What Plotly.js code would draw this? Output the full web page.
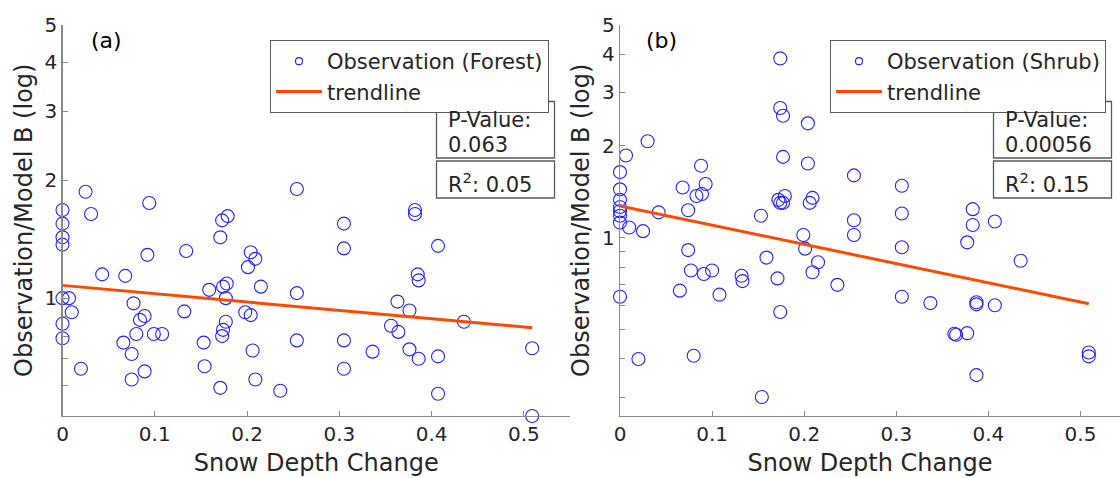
<!DOCTYPE html>
<html>
<head>
<meta charset="utf-8">
<script src="https://cdn.plot.ly/plotly-3.0.1.min.js"></script>
<style>
  html, body { margin: 0; padding: 0; background: #ffffff; }
  #chart { width: 1120px; height: 478px; }
</style>
</head>
<body>
<div id="chart"></div>
<script>
// Panel (a): forest sites
const forestX = [0.025, 0.094, 0, 0.031, 0, 0, 0, 0.173, 0.179, 0.171, 0.254, 0.092, 0.134, 0.204, 0.209, 0.201,
  0.043, 0.068, 0.159, 0.174, 0.178, 0.215, 0.254, 0, 0.007, 0.177, 0.010, 0.077, 0.132, 0.198, 0.204, 0, 0,
  0.089, 0.084, 0.177, 0.174, 0.173, 0.080, 0.099, 0.108, 0.066, 0.075, 0.153, 0.206, 0.020, 0.089, 0.075,
  0.154, 0.209, 0.171, 0.236,
  0.305, 0.305, 0.382, 0.382, 0.407, 0.385, 0.386, 0.363, 0.376, 0.435, 0.356, 0.364, 0.254, 0.305, 0.336,
  0.376, 0.386, 0.407, 0.305, 0.407, 0.509, 0.509];
const forestY = [1.87, 1.75, 1.68, 1.64, 1.55, 1.43, 1.37, 1.58, 1.62, 1.43, 1.90, 1.29, 1.32, 1.31, 1.26, 1.20,
  1.15, 1.14, 1.05, 1.07, 1.09, 1.07, 1.03, 1.00, 1.00, 1.00, 0.92, 0.97, 0.925, 0.92, 0.905, 0.86, 0.79,
  0.90, 0.88, 0.87, 0.83, 0.80, 0.81, 0.81, 0.81, 0.77, 0.72, 0.77, 0.735, 0.66, 0.65, 0.62,
  0.67, 0.62, 0.59, 0.58,
  1.55, 1.34, 1.68, 1.64, 1.36, 1.15, 1.11, 0.98, 0.93, 0.87, 0.85, 0.82, 0.78, 0.78, 0.73,
  0.74, 0.70, 0.71, 0.66, 0.57, 0.745, 0.50];
const forestTrendX = [0, 0.509];
const forestTrendY = [1.078, 0.840];
const forestStats = { p: '0.063', r2: '0.05' };

// Panel (b): shrub sites
const shrubX = [0.174, 0.174, 0.177, 0.204, 0.030, 0.0065, 0.177, 0.204, 0, 0.088, 0.068, 0.093, 0, 0.083, 0.089,
  0, 0, 0, 0, 0, 0.010, 0.025, 0.042, 0.074, 0.153, 0.172, 0.174, 0.179, 0.177, 0.209, 0.206, 0.199, 0.201,
  0.215, 0.209, 0.074, 0.159, 0.077, 0.091, 0.100, 0.132, 0.133, 0.171, 0.236, 0, 0.065, 0.108, 0.174,
  0.020, 0.080, 0.154,
  0.254, 0.306, 0.254, 0.254, 0.306, 0.383, 0.383, 0.407, 0.377, 0.306, 0.435, 0.306, 0.337, 0.387, 0.387,
  0.407, 0.363, 0.365, 0.377, 0.387, 0.509, 0.509, 0.356];
const shrubY = [3.87, 2.66, 2.51, 2.37, 2.07, 1.86, 1.84, 1.75, 1.64, 1.72, 1.46, 1.50, 1.44, 1.37, 1.39,
  1.33, 1.26, 1.22, 1.18, 1.12, 1.08, 1.05, 1.21, 1.23, 1.18, 1.33, 1.30, 1.37, 1.30, 1.35, 1.30, 1.02, 0.92,
  0.83, 0.77, 0.91, 0.86, 0.78, 0.76, 0.78, 0.75, 0.72, 0.735, 0.70, 0.64, 0.67, 0.65, 0.57,
  0.40, 0.41, 0.30,
  1.60, 1.48, 1.14, 1.02, 1.20, 1.24, 1.10, 1.13, 0.965, 0.93, 0.84, 0.64, 0.61, 0.614, 0.604,
  0.60, 0.484, 0.48, 0.486, 0.354, 0.42, 0.408, 0.258];
const shrubTrendX = [0, 0.509];
const shrubTrendY = [1.27, 0.607];
const shrubStats = { p: '0.00056', r2: '0.15' };

// Axis ticks
const xTickVals = [0, 0.1, 0.2, 0.3, 0.4, 0.5];
const xTickText = ['0', '0.1', '0.2', '0.3', '0.4', '0.5'];
const yTickVals = [1, 2, 3, 4, 5];
const yTickText = ['1', '2', '3', '4', '5'];
const yMinorValsA = [0.5, 0.6, 0.7, 0.8, 0.9];
const yMinorValsB = [0.3, 0.4, 0.5, 0.6, 0.7, 0.8, 0.9];

const W = 1120, H = 478;
const fx = v => v / W;          // pixel column -> paper x
const fy = v => 1 - v / H;      // pixel row -> paper y

const TEXT = '#262626';
const AXIS = '#8a8a8a';
const BLUE = 'rgb(35,35,255)';
const ORANGE = 'rgb(255,72,0)';
const FONT = 'DejaVu Sans';

const markerStyle = size => ({ symbol: 'circle-open', size: size, color: BLUE, line: { width: 1.1, color: BLUE } });

const traces = [
  { x: forestX, y: forestY, xaxis: 'x', yaxis: 'y', type: 'scatter', mode: 'markers',
    marker: markerStyle(13), cliponaxis: false, showlegend: false, hoverinfo: 'x+y' },
  { x: [null], y: [null], xaxis: 'x', yaxis: 'y', type: 'scatter', mode: 'markers',
    marker: markerStyle(7), name: 'Observation (Forest)', legend: 'legend' },
  { x: forestTrendX, y: forestTrendY, xaxis: 'x', yaxis: 'y', type: 'scatter', mode: 'lines',
    line: { color: ORANGE, width: 3 }, name: 'trendline', legend: 'legend' },

  { x: shrubX, y: shrubY, xaxis: 'x2', yaxis: 'y2', type: 'scatter', mode: 'markers',
    marker: markerStyle(13), cliponaxis: false, showlegend: false, hoverinfo: 'x+y' },
  { x: [null], y: [null], xaxis: 'x2', yaxis: 'y2', type: 'scatter', mode: 'markers',
    marker: markerStyle(7), name: 'Observation (Shrub)', legend: 'legend2' },
  { x: shrubTrendX, y: shrubTrendY, xaxis: 'x2', yaxis: 'y2', type: 'scatter', mode: 'lines',
    line: { color: ORANGE, width: 3 }, name: 'trendline', legend: 'legend2' }
];

const xAxisBase = {
  tickmode: 'array', tickvals: xTickVals, ticktext: xTickText, ticks: 'inside', ticklen: 5, tickwidth: 1, tickcolor: AXIS,
  showline: true, linecolor: AXIS, linewidth: 1.3, showgrid: false, zeroline: false,
  tickfont: { family: FONT, size: 20, color: TEXT },
  title: { text: 'Snow Depth Change', font: { family: FONT, size: 24, color: TEXT }, standoff: 9 }
};
const yAxisBase = {
  type: 'log', tickmode: 'array', tickvals: yTickVals, ticktext: yTickText,
  ticks: 'inside', ticklen: 5, tickwidth: 1, tickcolor: AXIS,
  showline: true, linecolor: AXIS, linewidth: 1.3, showgrid: false, zeroline: false,
  tickfont: { family: FONT, size: 20, color: TEXT },
  title: { text: 'Observation/Model B (log)', font: { family: FONT, size: 24, color: TEXT }, standoff: 5 }
};
const minorTicks = vals => ({ tickmode: 'array', tickvals: vals, ticks: 'inside', ticklen: 5, tickwidth: 1,
  tickcolor: AXIS, showgrid: false });

const yDomain = [fy(416), fy(24.5)];

const legendBase = {
  yanchor: 'top', xanchor: 'left', y: fy(40),
  bgcolor: '#ffffff', bordercolor: '#5a5a5a', borderwidth: 1,
  font: { family: FONT, size: 21, color: TEXT },
  itemwidth: 46, traceorder: 'normal'
};

function statNotes(left, stats) {
  return [
    { x: fx(left + 9), y: fy(120), text: 'P-Value:' },
    { x: fx(left + 9), y: fy(145), text: stats.p },
    { x: fx(left + 9), y: fy(183), text: 'R<sup>2</sup>: ' + stats.r2 }
  ].map(a => Object.assign(a, { xref: 'paper', yref: 'paper', xanchor: 'left', yanchor: 'middle',
    showarrow: false, font: { family: FONT, size: 21, color: TEXT } }));
}
function statBoxes(left) {
  const line = { color: '#5a5a5a', width: 1.3 };
  return [
    { type: 'rect', xref: 'paper', yref: 'paper', x0: fx(left), x1: fx(left + 118), y0: fy(101.5), y1: fy(158),
      line: line, fillcolor: '#ffffff', layer: 'above' },
    { type: 'rect', xref: 'paper', yref: 'paper', x0: fx(left), x1: fx(left + 118), y0: fy(161), y1: fy(198),
      line: line, fillcolor: '#ffffff', layer: 'above' }
  ];
}

const layout = {
  width: W, height: H,
  margin: { l: 0, r: 0, t: 0, b: 0 },
  paper_bgcolor: '#ffffff', plot_bgcolor: '#ffffff',
  showlegend: true,
  xaxis: Object.assign({}, xAxisBase, { domain: [fx(62.5), fx(570)], range: [0, 0.55], anchor: 'y' }),
  yaxis: Object.assign({}, yAxisBase, { domain: yDomain, anchor: 'x',
    range: [Math.log10(0.5), Math.log10(5)], minor: minorTicks(yMinorValsA) }),
  xaxis2: Object.assign({}, xAxisBase, { domain: [fx(620), 1], range: [0, 500 / 921], anchor: 'y2' }),
  yaxis2: Object.assign({}, yAxisBase, { domain: yDomain, anchor: 'x2',
    range: [Math.log10(0.26), Math.log10(5)], minor: minorTicks(yMinorValsB) }),
  legend: Object.assign({}, legendBase, { x: fx(270) }),
  legend2: Object.assign({}, legendBase, { x: fx(830) }),
  shapes: statBoxes(436.5).concat(statBoxes(993.5)),
  annotations: [
    { x: fx(89), y: fy(40), text: '(a)' },
    { x: fx(644), y: fy(40), text: '(b)' }
  ].map(a => Object.assign(a, { xref: 'paper', yref: 'paper', xanchor: 'left', yanchor: 'middle',
    showarrow: false, font: { family: FONT, size: 22, color: '#000000' } }))
    .concat(statNotes(436.5, forestStats), statNotes(993.5, shrubStats))
};

Plotly.newPlot('chart', traces, layout, { displayModeBar: false, staticPlot: true });
</script>
</body>
</html>
